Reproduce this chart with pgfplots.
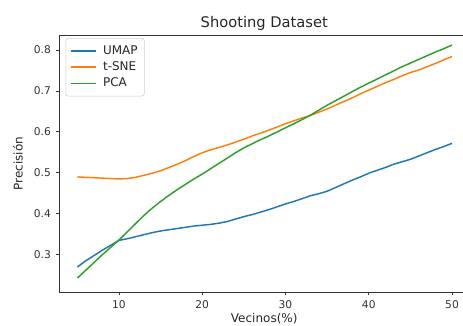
\documentclass[border=0pt]{standalone}
\usepackage{fontspec}
\setmainfont{DejaVu Sans}
\usepackage{pgfplots}
\pgfplotsset{compat=1.18}
\definecolor{mblue}{HTML}{1F77B4}
\definecolor{morange}{HTML}{FF7F0E}
\definecolor{mgreen}{HTML}{2CA02C}
\begin{document}
\begin{tikzpicture}
\useasboundingbox (-44.25pt,-24.75pt) rectangle (303pt,219pt);
\begin{axis}[
  at={(0,0)}, anchor=south west,
  width=303.6pt, height=192.75pt, scale only axis,
  xmin=2.793, xmax=51.418, ymin=0.2089, ymax=0.8366,
  axis line style={black!80, line width=0.6pt},
  xtick={10,20,30,40,50},
  ytick={0.3,0.4,0.5,0.6,0.7,0.8},
  xtick pos=bottom, ytick pos=left,
  yticklabel style={/pgf/number format/fixed, /pgf/number format/precision=1, /pgf/number format/fixed zerofill},
  /pgf/number format/assume math mode=true,
  tick align=outside, major tick length=2.6pt,
  tick style={black!80, line width=0.6pt},
  ticklabel style={font=\fontsize{8}{9}\selectfont, text=black!80},
  title={Shooting Dataset},
  title style={at={(0.507,1)}, anchor=base, yshift=0pt, inner sep=0pt, font=\fontsize{11}{12}\selectfont, text=black!85},
  xlabel={Vecinos(\%)},
  xlabel style={at={(0.507,0)}, anchor=base, yshift=-23pt, inner sep=0pt, font=\fontsize{9}{10}\selectfont, text=black!85},
  ylabel={Precisión},
  ylabel style={at={(0,0.5)}, anchor=center, yshift=30.75pt, inner sep=0pt, font=\fontsize{9}{10}\selectfont, text=black!85},
  legend style={at={(0,1)}, anchor=north west, xshift=5pt, yshift=-2.25pt, draw=black!20, rounded corners=2pt, fill=white, font=\fontsize{9}{10}\selectfont, row sep=0pt, inner xsep=3pt, inner ysep=3.5pt, column sep=3pt, text=black!85},
  legend cell align=left,
  legend image code/.code={\draw[#1] (0pt,0pt) -- (18.75pt,0pt);},
]
\addplot[mblue, line width=1.1pt] coordinates {
(5,0.270)(6,0.285)(7,0.298)(8,0.311)(9,0.323)(10,0.335)(11,0.339)(12,0.344)(13,0.349)(14,0.354)(15,0.358)(16,0.361)(17,0.364)(18,0.367)(19,0.370)(20,0.372)(21,0.374)(22,0.377)(23,0.381)(24,0.387)(25,0.393)(26,0.398)(27,0.404)(28,0.410)(29,0.417)(30,0.424)(31,0.430)(32,0.437)(33,0.444)(34,0.449)(35,0.455)(36,0.464)(37,0.473)(38,0.482)(39,0.490)(40,0.499)(41,0.506)(42,0.513)(43,0.521)(44,0.527)(45,0.533)(46,0.541)(47,0.549)(48,0.557)(49,0.564)(50,0.572)};
\addlegendentry{UMAP}
\addplot[morange, line width=1.1pt] coordinates {
(5,0.490)(6,0.489)(7,0.488)(8,0.487)(9,0.486)(10,0.485)(11,0.486)(12,0.489)(13,0.494)(14,0.499)(15,0.505)(16,0.513)(17,0.521)(18,0.530)(19,0.540)(20,0.549)(21,0.556)(22,0.562)(23,0.568)(24,0.575)(25,0.582)(26,0.590)(27,0.597)(28,0.604)(29,0.612)(30,0.620)(31,0.627)(32,0.634)(33,0.640)(34,0.648)(35,0.656)(36,0.665)(37,0.674)(38,0.683)(39,0.693)(40,0.702)(41,0.711)(42,0.720)(43,0.728)(44,0.737)(45,0.745)(46,0.751)(47,0.759)(48,0.767)(49,0.776)(50,0.784)};
\addlegendentry{t-SNE}
\addplot[mgreen, line width=1.1pt, legend image post style={line width=0.7pt}] coordinates {
(5,0.243)(6,0.262)(7,0.281)(8,0.300)(9,0.318)(10,0.336)(11,0.356)(12,0.376)(13,0.396)(14,0.414)(15,0.430)(16,0.445)(17,0.459)(18,0.472)(19,0.485)(20,0.497)(21,0.510)(22,0.523)(23,0.536)(24,0.549)(25,0.561)(26,0.571)(27,0.581)(28,0.590)(29,0.600)(30,0.610)(31,0.620)(32,0.630)(33,0.641)(34,0.653)(35,0.665)(36,0.676)(37,0.687)(38,0.698)(39,0.709)(40,0.719)(41,0.729)(42,0.739)(43,0.749)(44,0.759)(45,0.768)(46,0.777)(47,0.786)(48,0.795)(49,0.803)(50,0.812)};
\addlegendentry{PCA}
\end{axis}
\end{tikzpicture}
\end{document}
